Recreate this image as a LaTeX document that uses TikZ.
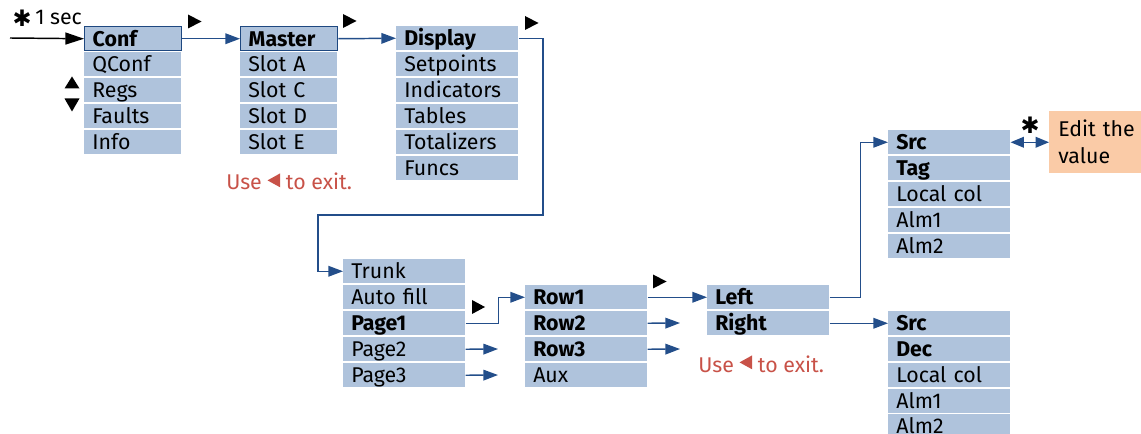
\documentclass[tikz,border=0pt]{standalone}
\usepackage{fontspec}
\setmainfont{Fira Sans}
\newfontfamily\symfont{DejaVu Sans}
\usetikzlibrary{arrows.meta}
\definecolor{cellblue}{RGB}{175,195,220}
\definecolor{framedblue}{RGB}{30,72,128}
\definecolor{linkblue}{RGB}{35,78,138}
\definecolor{exitred}{RGB}{200,82,72}
\definecolor{peach}{RGB}{250,203,167}
\newcommand\menufont{\fontsize{16}{20.25}\selectfont}
% small left-pointing key symbol used inside the exit hints
\newcommand\backkey{\tikz[baseline=0pt]\fill[exitred] (0pt,7.2pt) -- (9.5pt,2pt) -- (9.5pt,12.5pt) -- cycle;}
\begin{document}
\begin{tikzpicture}[x=0.75pt,y=-0.75pt,
  cell/.style={rectangle, fill=cellblue, anchor=north west, inner xsep=6pt,
    inner ysep=0pt, minimum height=18pt, text height=13.6pt, text depth=2.4pt,
    align=left, font=\menufont},
  narrow/.style={text width=60.75pt},
  wide/.style={text width=79.5pt},
  hd/.style={font=\menufont\bfseries},
  framedcell/.style={draw=framedblue, line width=1.1pt},
  link/.style={draw=linkblue, line width=1.1pt, -{Triangle[length=11pt,width=8pt]}},
  lead/.style={draw=black, line width=1.1pt, -{Triangle[length=14pt,width=9pt]}},
  pointer/.style={fill=black},
  note/.style={text=exitred, font=\menufont, inner sep=0pt, anchor=base west},
  star/.style={font=\symfont\fontsize{17}{17}\selectfont, inner sep=0pt},
]
\useasboundingbox (0,0) rectangle (1141,434);
\clip (0,0) rectangle (1141,434);

% main configuration menu
\node[cell, narrow, hd, framedcell] (conf) at (84,26) {Conf};
\node[cell, narrow] (qconf)  at (84,52)  {QConf};
\node[cell, narrow] (regs)   at (84,78)  {Regs};
\node[cell, narrow] (faults) at (84,104) {Faults};
\node[cell, narrow] (info)   at (84,130) {Info};

% slots
\node[cell, narrow, hd, framedcell] (master) at (240,26) {Master};
\node[cell, narrow] (slota) at (240,52)  {Slot A};
\node[cell, narrow] (slotc) at (240,78)  {Slot C};
\node[cell, narrow] (slotd) at (240,104) {Slot D};
\node[cell, narrow] (slote) at (240,130) {Slot E};

% master menu
\node[cell, wide, hd] (display)    at (396,26)  {Display};
\node[cell, wide] (setpoints)      at (396,52)  {Setpoints};
\node[cell, wide] (indicators)     at (396,78)  {Indicators};
\node[cell, wide] (tables)         at (396,104) {Tables};
\node[cell, wide] (totalizers)     at (396,130) {Totalizers};
\node[cell, wide] (funcs)          at (396,156) {Funcs};

% display menu
\node[cell, wide] (trunk)    at (343,259) {Trunk};
\node[cell, wide] (autofill) at (343,285) {Auto fill};
\node[cell, wide, hd] (page1) at (343,311) {Page1};
\node[cell, wide] (page2)    at (343,337) {Page2};
\node[cell, wide] (page3)    at (343,363) {Page3};

% page rows
\node[cell, wide, hd] (row1) at (525,285) {Row1};
\node[cell, wide, hd] (row2) at (525,311) {Row2};
\node[cell, wide, hd] (row3) at (525,337) {Row3};
\node[cell, wide] (aux)      at (525,363) {Aux};

% row sides
\node[cell, wide, hd] (left)  at (707,285) {Left};
\node[cell, wide, hd] (right) at (707,311) {Right};

% left side fields
\node[cell, wide, hd] (srca) at (888,130) {Src};
\node[cell, wide, hd] (taga) at (888,156) {Tag};
\node[cell, wide] (locala)   at (888,182) {Local col};
\node[cell, wide] (alm1a)    at (888,208) {Alm1};
\node[cell, wide] (alm2a)    at (888,234) {Alm2};

% right side fields
\node[cell, wide, hd] (srcb) at (888,311) {Src};
\node[cell, wide, hd] (decb) at (888,337) {Dec};
\node[cell, wide] (localb)   at (888,363) {Local col};
\node[cell, wide] (alm1b)    at (888,389) {Alm1};
\node[cell, wide] (alm2b)    at (888,414) {Alm2};

% value editor
\node[fill=peach, anchor=north west, minimum width=69pt, minimum height=46.5pt,
  text width=62pt, inner xsep=6.75pt, inner ysep=0pt, align=left, font=\menufont]
  (edit) at (1049,111) {Edit the\\value};

% entry
\coordinate (start) at (10,38);
\node[star] (star1) at (22,18) {✱};
\node[anchor=base west, inner sep=0pt, font=\menufont] (onesec) at (35,25) {1 sec};
\draw[lead] (start) -- (conf.west);

% connectors
\draw[link] (conf.east) -- (master.west);
\draw[link] (master.east) -- (display.west);
\coordinate (turna) at (543,215);
\coordinate (turnb) at (318,215);
\draw[link] (display.east) -| (turna) -- (turnb) |- (trunk.west);
\draw[link] (page1.east) -- ++(33,0) |- (row1.west);
\coordinate (p2end) at (498,349);
\coordinate (p3end) at (498,375);
\draw[link] (page2.east) -- (p2end);
\draw[link] (page3.east) -- (p3end);
\draw[link] (row1.east) -- (left.west);
\coordinate (r2end) at (680,323);
\coordinate (r3end) at (680,349);
\draw[link] (row2.east) -- (r2end);
\draw[link] (row3.east) -- (r3end);
\draw[link] (left.east) -- ++(31,0) |- (srca.west);
\draw[link] (right.east) -- (srcb.west);
\draw[link, {Triangle[length=10pt,width=8pt]}-{Triangle[length=10pt,width=8pt]}]
  (srca.east) -- (edit.west);
\node[star] (star2) at (1030,125) {✱};

% key symbols
\fill[pointer] (188,14.5) -- (201.5,21.5) -- (188,28.5) -- cycle;
\fill[pointer] (343,14) -- (356.5,21) -- (343,28) -- cycle;
\fill[pointer] (525,16) -- (538.5,23) -- (525,30) -- cycle;
\fill[pointer] (472,300) -- (485,307) -- (472,314) -- cycle;
\fill[pointer] (653,274.5) -- (666.5,281.5) -- (653,288.5) -- cycle;
\fill[pointer] (64.5,88.5) -- (79.5,88.5) -- (72,76.5) -- cycle;
\fill[pointer] (64.5,98.5) -- (79.5,98.5) -- (72,111.5) -- cycle;

% exit hints
\node[note] (exit1) at (226,190) {Use \backkey{} to exit.};
\node[note] (exit2) at (698,372) {Use \backkey{} to exit.};
\end{tikzpicture}
\end{document}
